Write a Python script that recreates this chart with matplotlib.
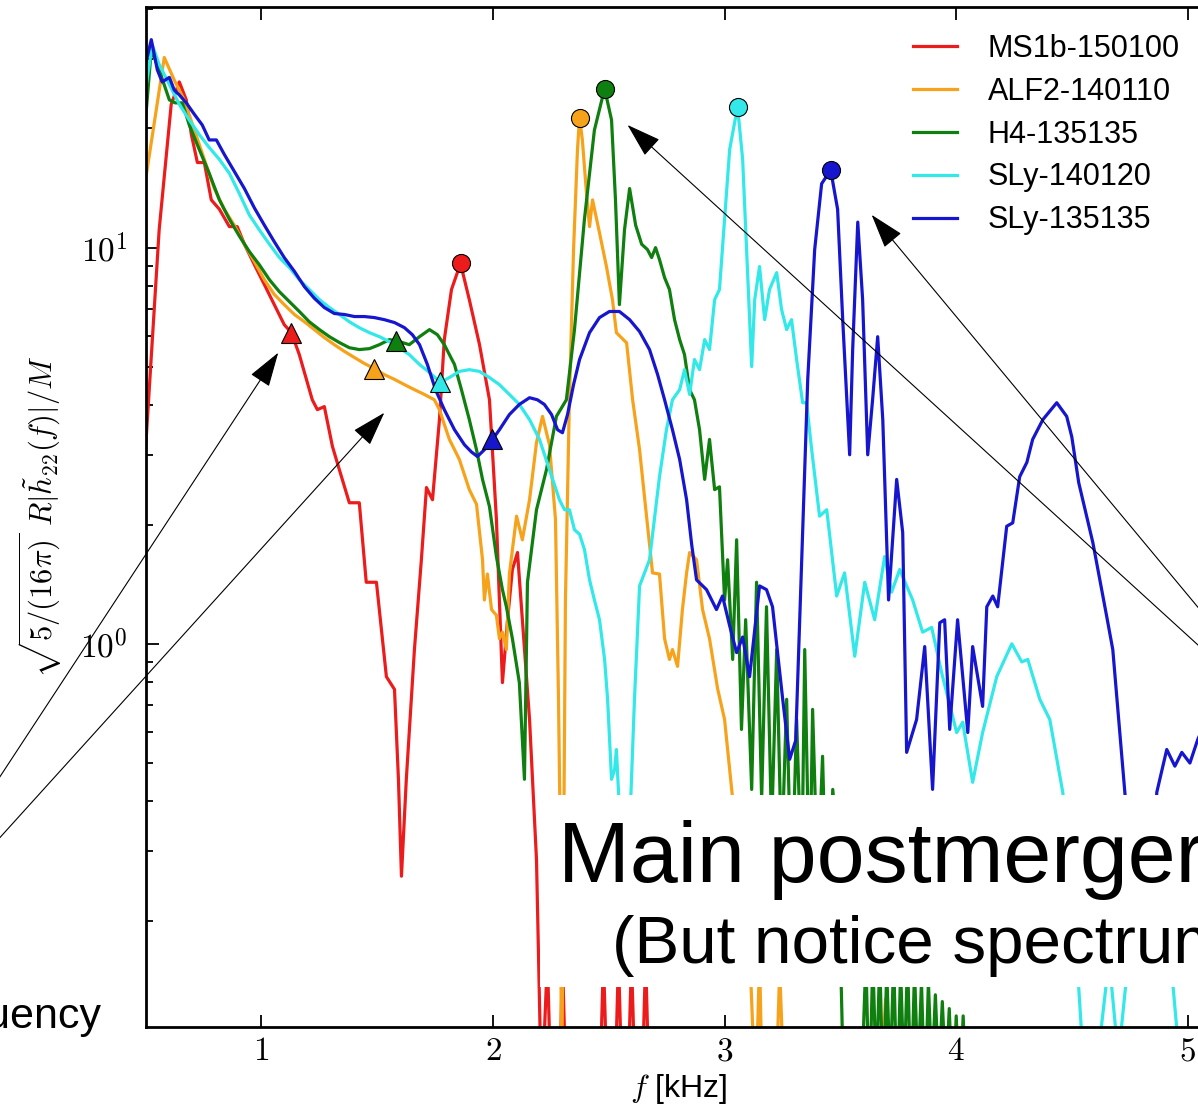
import numpy as np
import matplotlib
matplotlib.use('Agg')
import matplotlib.pyplot as plt
from matplotlib.patches import Rectangle
from matplotlib.ticker import FixedLocator, FuncFormatter, NullFormatter, LogLocator

plt.rcParams['font.family'] = ['Liberation Sans', 'DejaVu Sans']
plt.rcParams['mathtext.fontset'] = 'cm'

# --- spectra |h22(f)| for the five binaries (f in kHz) ---
labels = ['MS1b-150100', 'ALF2-140110', 'H4-135135', 'SLy-140120', 'SLy-135135']
colors = ['#ec1c1c', '#f7a21b', '#0f7f0f', '#33e8e8', '#1616cf']

f_ms1b = [0.50, 0.559, 0.611, 0.646, 0.676, 0.698, 0.724, 0.754, 0.784, 0.819,
          0.862, 0.896, 0.927, 0.970, 1.013, 1.056, 1.099, 1.130, 1.164, 1.220,
          1.242, 1.272, 1.307, 1.337, 1.380, 1.423, 1.453, 1.497, 1.540, 1.575,
          1.592, 1.605, 1.626, 1.661, 1.691, 1.713, 1.739, 1.769, 1.790, 1.821,
          1.860, 1.898, 1.942, 1.985, 2.015, 2.041, 2.063, 2.084, 2.106, 2.127,
          2.158, 2.188, 2.21, 2.235, 2.252, 2.287, 2.300, 2.317, 2.460, 2.477,
          2.495, 2.525, 2.542, 2.559, 2.581, 2.598, 2.616, 2.642, 2.659, 2.676,
          3.3]
h_ms1b = [3.09, 11.1, 23.0, 26.2, 23.6, 19.3, 16.4, 16.4, 13.2, 12.5,
          11.3, 11.3, 10.2, 9.06, 8.07, 7.18, 6.39, 6.10, 5.37, 4.13,
          3.90, 3.97, 3.15, 2.75, 2.27, 2.27, 1.43, 1.43, 0.826, 0.767,
          0.455, 0.259, 0.455, 0.967, 1.63, 2.48, 2.31, 3.68, 5.86, 7.84,
          9.12, 7.39, 5.69, 4.13, 2.06, 0.798, 1.15, 1.54, 1.70, 1.15,
          0.644, 0.285, 0.07, 0.16, 0.07, 0.07, 0.16, 0.07, 0.07, 0.16,
          0.07, 0.07, 0.16, 0.07, 0.07, 0.16, 0.07, 0.07, 0.16, 0.07,
          0.05]

f_alf2 = [0.50, 0.581, 0.624, 0.667, 0.711, 0.754, 0.797, 0.840, 0.883, 0.927,
          0.970, 1.013, 1.056, 1.099, 1.143, 1.186, 1.229, 1.272, 1.315, 1.359,
          1.402, 1.445, 1.488, 1.531, 1.575, 1.618, 1.661, 1.704, 1.747, 1.769,
          1.790, 1.812, 1.855, 1.898, 1.929, 1.955, 1.963, 1.976, 1.994, 2.015,
          2.028, 2.041, 2.058, 2.071, 2.102, 2.127, 2.158, 2.188, 2.214, 2.244,
          2.270, 2.283, 2.292, 2.296, 2.305, 2.313, 2.330, 2.348, 2.365, 2.374,
          2.386, 2.404, 2.417, 2.430, 2.460, 2.490, 2.516, 2.533, 2.577, 2.603,
          2.633, 2.663, 2.689, 2.719, 2.741, 2.762, 2.775, 2.797, 2.818, 2.836,
          2.849, 2.879, 2.905, 2.935, 2.970, 3.000, 3.035, 3.065, 3.108, 3.134,
          3.151, 3.164, 3.220, 3.238, 3.259, 3.67, 3.695, 3.71, 4.19]
h_alf2 = [14.8, 30.2, 26.5, 23.6, 19.8, 16.7, 14.1, 12.5, 11.4, 10.2,
          9.22, 8.30, 7.62, 7.18, 6.78, 6.50, 6.21, 5.93, 5.69, 5.47,
          5.28, 5.10, 4.95, 4.78, 4.65, 4.51, 4.38, 4.26, 4.13, 3.90,
          3.58, 3.28, 2.92, 2.45, 2.25, 1.63, 1.29, 1.50, 1.22, 1.18,
          1.03, 1.07, 0.967, 1.50, 2.10, 1.83, 2.31, 3.22, 3.75, 3.18,
          2.06, 0.724, 0.285, 0.07, 0.285, 1.29, 4.13, 9.89, 17.7, 21.3,
          18.7, 13.7, 11.3, 13.2, 10.9, 8.96, 7.39, 6.10, 5.75, 4.13,
          3.09, 2.10, 1.51, 1.50, 1.03, 0.913, 0.967, 0.877, 1.22, 1.51,
          1.70, 1.63, 1.22, 1.03, 0.77, 0.644, 0.405, 0.27, 0.17, 0.07,
          0.16, 0.07, 0.07, 0.15, 0.07, 0.07, 0.127, 0.07, 0.06]

f_h4 = [0.50, 0.525, 0.559, 0.603, 0.628, 0.659, 0.689, 0.732, 0.775, 0.819,
        0.862, 0.905, 0.948, 0.991, 1.035, 1.078, 1.121, 1.164, 1.207, 1.251,
        1.294, 1.337, 1.380, 1.423, 1.467, 1.510, 1.553, 1.583, 1.639, 1.683,
        1.726, 1.760, 1.790, 1.834, 1.864, 1.898, 1.929, 1.955, 1.985, 2.015,
        2.041, 2.058, 2.084, 2.114, 2.136, 2.149, 2.188, 2.231, 2.274, 2.317,
        2.352, 2.395, 2.438, 2.482, 2.512, 2.529, 2.546, 2.568, 2.590, 2.616,
        2.642, 2.667, 2.685, 2.702, 2.719, 2.741, 2.762, 2.784, 2.806, 2.827,
        2.849, 2.870, 2.892, 2.914, 2.935, 2.957, 2.978, 3.000, 3.013, 3.035,
        3.052, 3.073, 3.091, 3.117, 3.138, 3.160, 3.181, 3.203, 3.225, 3.246,
        3.268, 3.289, 3.311, 3.333, 3.346, 3.367, 3.380, 3.402, 3.423, 3.445,
        3.467, 3.49, 3.518, 3.585, 3.61, 3.625, 3.64, 3.655, 3.67, 3.685,
        3.70, 3.715, 3.73, 3.745, 3.76, 3.775, 3.79, 3.805, 3.82, 3.835,
        3.85, 3.865, 3.88, 3.895, 3.91, 3.925, 3.94, 3.955, 3.97, 3.985,
        4.00, 4.015, 4.03, 4.045, 4.3]
h_h4 = [21.0, 31.6, 28.1, 23.6, 23.2, 23.2, 20.4, 17.7, 15.4, 13.2,
        11.8, 10.7, 9.78, 9.06, 8.30, 7.74, 7.31, 6.90, 6.50, 6.21,
        5.96, 5.76, 5.59, 5.53, 5.56, 5.69, 5.86, 5.82, 5.69, 5.96,
        6.21, 6.03, 5.69, 5.07, 4.38, 3.68, 3.09, 2.60, 2.22, 1.66,
        1.37, 1.24, 1.03, 0.798, 0.455, 1.43, 2.18, 2.75, 3.75, 4.13,
        6.21, 11.8, 19.8, 25.2, 21.0, 13.2, 7.18, 11.1, 14.1, 11.4,
        10.2, 9.89, 9.44, 10.0, 9.33, 8.4, 7.84, 6.58, 5.86, 5.37,
        4.38, 4.13, 3.47, 2.60, 3.28, 2.45, 2.49, 1.29, 1.63, 0.913,
        1.83, 0.608, 1.15, 0.429, 1.43, 0.405, 1.24, 0.34, 0.967, 0.285,
        0.724, 0.226, 0.644, 0.25, 0.967, 0.226, 0.683, 0.25, 0.520, 0.169,
        0.429, 0.3, 0.06, 0.06, 0.16, 0.07, 0.16, 0.08, 0.16, 0.07,
        0.15, 0.08, 0.16, 0.07, 0.15, 0.08, 0.16, 0.07, 0.15, 0.08,
        0.14, 0.07, 0.14, 0.08, 0.13, 0.08, 0.125, 0.08, 0.12, 0.07,
        0.115, 0.07, 0.115, 0.07, 0.05]

f_sly140 = [0.50, 0.529, 0.559, 0.603, 0.646, 0.689, 0.732, 0.775, 0.819, 0.862,
            0.905, 0.948, 0.991, 1.035, 1.078, 1.121, 1.164, 1.207, 1.251, 1.294,
            1.337, 1.380, 1.423, 1.467, 1.510, 1.553, 1.596, 1.639, 1.683, 1.726,
            1.773, 1.812, 1.855, 1.898, 1.942, 1.985, 2.028, 2.071, 2.114, 2.158,
            2.201, 2.244, 2.287, 2.309, 2.330, 2.352, 2.374, 2.395, 2.417, 2.438,
            2.460, 2.482, 2.495, 2.512, 2.525, 2.533, 2.55, 2.568, 2.590, 2.611,
            2.633, 2.676, 2.719, 2.749, 2.775, 2.806, 2.827, 2.849, 2.870, 2.892,
            2.914, 2.935, 2.957, 2.978, 3.000, 3.022, 3.056, 3.078, 3.095, 3.117,
            3.130, 3.151, 3.173, 3.194, 3.225, 3.246, 3.268, 3.289, 3.311, 3.337,
            3.354, 3.376, 3.410, 3.441, 3.484, 3.518, 3.562, 3.605, 3.648, 3.691,
            3.721, 3.756, 3.812, 3.855, 3.894, 3.937, 4.002, 4.028, 4.071, 4.114,
            4.175, 4.240, 4.283, 4.309, 4.361, 4.404, 4.460, 4.50, 4.56, 4.59,
            4.66, 4.70, 4.76, 4.85, 4.93, 4.98, 5.15]
h_sly140 = [25.0, 32.5, 29.0, 25.8, 23.0, 21.0, 19.3, 17.9, 16.7, 15.4,
            13.7, 12.1, 11.1, 10.2, 9.44, 8.91, 8.30, 7.84, 7.39, 7.06,
            6.78, 6.50, 6.28, 6.10, 5.96, 5.79, 5.59, 5.37, 5.07, 4.84,
            4.57, 4.70, 4.87, 4.92, 4.87, 4.70, 4.51, 4.26, 4.02, 3.68,
            3.28, 2.75, 2.31, 2.18, 2.18, 1.94, 1.89, 1.73, 1.45, 1.29,
            1.15, 0.913, 0.724, 0.455, 0.48, 0.541, 0.34, 0.226, 0.34, 0.724,
            1.40, 1.63, 2.64, 3.47, 4.13, 4.38, 4.92, 4.26, 5.22, 4.92,
            5.86, 5.53, 7.39, 7.84, 11.8, 17.7, 22.7, 16.7, 9.89, 5.01,
            7.39, 8.96, 6.58, 7.84, 8.65, 6.98, 6.21, 6.58, 5.22, 4.06,
            4.06, 3.09, 2.10, 2.18, 1.32, 1.51, 0.93, 1.43, 1.15, 1.66,
            1.35, 1.54, 1.29, 1.07, 1.10, 0.846, 0.597, 0.634, 0.447, 0.597,
            0.826, 1.0, 0.90, 0.913, 0.724, 0.644, 0.422, 0.25, 0.07, 0.07,
            0.16, 0.09, 0.2, 0.25, 0.15, 0.07, 0.07]

f_sly135 = [0.50, 0.525, 0.551, 0.572, 0.603, 0.624, 0.646, 0.676, 0.711, 0.745,
            0.775, 0.806, 0.840, 0.883, 0.927, 0.970, 1.013, 1.056, 1.099, 1.143,
            1.186, 1.229, 1.272, 1.315, 1.359, 1.402, 1.445, 1.488, 1.531, 1.575,
            1.618, 1.652, 1.683, 1.717, 1.752, 1.790, 1.834, 1.877, 1.907, 1.933,
            1.963, 1.998, 2.028, 2.071, 2.114, 2.158, 2.192, 2.222, 2.253, 2.279,
            2.300, 2.322, 2.348, 2.374, 2.417, 2.460, 2.503, 2.546, 2.590, 2.633,
            2.676, 2.711, 2.741, 2.775, 2.806, 2.836, 2.858, 2.879, 2.922, 2.965,
            2.991, 3.022, 3.052, 3.078, 3.108, 3.151, 3.181, 3.207, 3.251, 3.281,
            3.307, 3.333, 3.359, 3.389, 3.419, 3.458, 3.488, 3.510, 3.540, 3.553,
            3.575, 3.596, 3.618, 3.639, 3.661, 3.683, 3.708, 3.743, 3.769, 3.786,
            3.829, 3.864, 3.898, 3.929, 3.950, 3.972, 4.006, 4.050, 4.071, 4.114,
            4.132, 4.158, 4.179, 4.218, 4.244, 4.274, 4.305, 4.330, 4.374, 4.434,
            4.477, 4.499, 4.529, 4.590, 4.650, 4.676, 4.706, 4.728, 4.77, 4.84,
            4.866, 4.909, 4.944, 4.974, 5.009, 5.043, 5.12]
h_sly135 = [29.0, 33.5, 28.1, 26.2, 26.9, 25.0, 24.3, 23.2, 21.7, 20.4,
            18.7, 18.7, 17.2, 15.6, 14.1, 12.6, 11.4, 10.35, 9.44, 8.71,
            7.97, 7.45, 7.06, 6.82, 6.78, 6.70, 6.70, 6.66, 6.58, 6.47,
            6.28, 6.03, 5.69, 5.07, 4.38, 3.90, 3.47, 3.18, 3.05, 2.97,
            3.09, 3.28, 3.47, 3.79, 4.02, 4.18, 4.13, 4.02, 3.79, 3.47,
            3.41, 3.79, 4.51, 5.22, 6.10, 6.66, 6.90, 6.90, 6.58, 6.14,
            5.53, 4.78, 4.13, 3.47, 2.92, 2.31, 1.78, 1.45, 1.37, 1.22,
            1.32, 1.11, 0.95, 1.04, 0.826, 1.40, 1.37, 1.24, 0.724, 0.511,
            0.57, 1.63, 4.65, 9.89, 14.5, 15.7, 12.5, 6.58, 3.00, 5.53,
            11.6, 7.39, 3.00, 4.13, 5.96, 3.68, 1.29, 2.60, 1.91, 0.532,
            0.644, 0.984, 0.429, 1.13, 1.15, 0.608, 1.15, 0.597, 0.984, 0.695,
            1.24, 1.32, 1.24, 1.98, 2.02, 2.64, 2.87, 3.28, 3.68, 4.06,
            3.75, 3.33, 2.55, 1.80, 1.17, 0.967, 0.597, 0.422, 0.226, 0.226,
            0.422, 0.541, 0.491, 0.532, 0.50, 0.574, 0.72]

# merger frequency (triangles) and main postmerger peak (circles)
f_merger = [1.130, 1.488, 1.583, 1.773, 1.998]
h_merger = [6.10, 4.95, 5.82, 4.57, 3.28]
f_peak = [1.860, 2.374, 2.482, 3.056, 3.458]
h_peak = [9.12, 21.3, 25.2, 22.7, 15.7]

freqs = [f_ms1b, f_alf2, f_h4, f_sly140, f_sly135]
amps = [h_ms1b, h_alf2, h_h4, h_sly140, h_sly135]

W, H = 1198, 1104
fig = plt.figure(figsize=(W / 100, H / 100), dpi=100)
ax = fig.add_axes([145.5 / W, 77.3 / H, (1211 - 145.5) / W, (1097 - 77.3) / H])

for f, h, c, lab in zip(freqs, amps, colors, labels):
    ax.plot(f, h, color=c, lw=2.3, label=lab)
for i, c in enumerate(colors):
    ax.plot(f_merger[i], h_merger[i], '^', color=c, ms=14, mec='k', mew=0.8, zorder=4)
    ax.plot(f_peak[i], h_peak[i], 'o', color=c, ms=13, mec='k', mew=0.8, zorder=4)

ax.set_yscale('log')
ax.set_xlim(0.5, 5.1)
ax.set_ylim(0.108, 40.5)

ax.xaxis.set_major_locator(FixedLocator([1, 2, 3, 4, 5]))
ax.xaxis.set_major_formatter(FuncFormatter(lambda v, p: r'$%d$' % v))
ax.yaxis.set_major_locator(LogLocator(base=10))
ax.yaxis.set_major_formatter(FuncFormatter(lambda v, p: r'$10^{%d}$' % round(np.log10(v))))
ax.yaxis.set_minor_locator(LogLocator(base=10, subs=np.arange(2, 10)))
ax.yaxis.set_minor_formatter(NullFormatter())

ax.tick_params(which='both', direction='in', top=True, right=True, width=1.3, labelsize=24)
ax.tick_params(which='major', length=9)
ax.tick_params(which='minor', length=5)
ax.tick_params(axis='x', pad=7)
ax.tick_params(axis='y', pad=13)
for s in ax.spines.values():
    s.set_linewidth(2)

ax.set_xlabel(r'$f$ [kHz]', fontsize=23)
ax.xaxis.set_label_coords(0.5, -0.044)
ax.set_ylabel(r'$\sqrt{5/(16\pi)}\ R|\tilde{h}_{22}(f)|/M$', fontsize=22)
ax.yaxis.set_label_coords((64 - 145.5) / (1211 - 145.5), 0.5)

ax.legend(loc='upper left', bbox_to_anchor=(913 / W, 1 - 34 / H), bbox_transform=fig.transFigure,
          frameon=False, fontsize=22, handlelength=1.45, handletextpad=1.0,
          labelspacing=0.42, borderpad=0, borderaxespad=0)

# arrows pointing at the merger and peak markers
arrow = dict(arrowstyle='-|>,head_length=1.1,head_width=0.35', mutation_scale=20,
             color='k', lw=0.8, shrinkA=0, shrinkB=0)
for tip, tail in [((1.073, 5.43), (-100, 175)), ((1.531, 3.83), (-100, 156)),
                  ((2.581, 20.4), (1300, 366)), ((3.635, 12.1), (1300, 374))]:
    ax.annotate('', xy=tip, xycoords='data', xytext=tail, textcoords='figure pixels',
                arrowprops=arrow, annotation_clip=False)

# slide caption over the lower right
fig.add_artist(Rectangle((540 / W, 117 / H), 1 - 540 / W, (309 - 117) / H,
                         transform=fig.transFigure, facecolor='white', edgecolor='none', zorder=5))
fig.text(558 / W, (H - 882) / H, 'Main postmerger', fontsize=62, ha='left', va='baseline', zorder=6)
fig.text(612 / W, (H - 963) / H, '(But notice spectrum', fontsize=48.5, ha='left', va='baseline', zorder=6)
fig.text(101 / W, (H - 1028) / H, 'frequency', fontsize=31, ha='right', va='baseline', zorder=6)

fig.savefig('out.png', dpi=100)
